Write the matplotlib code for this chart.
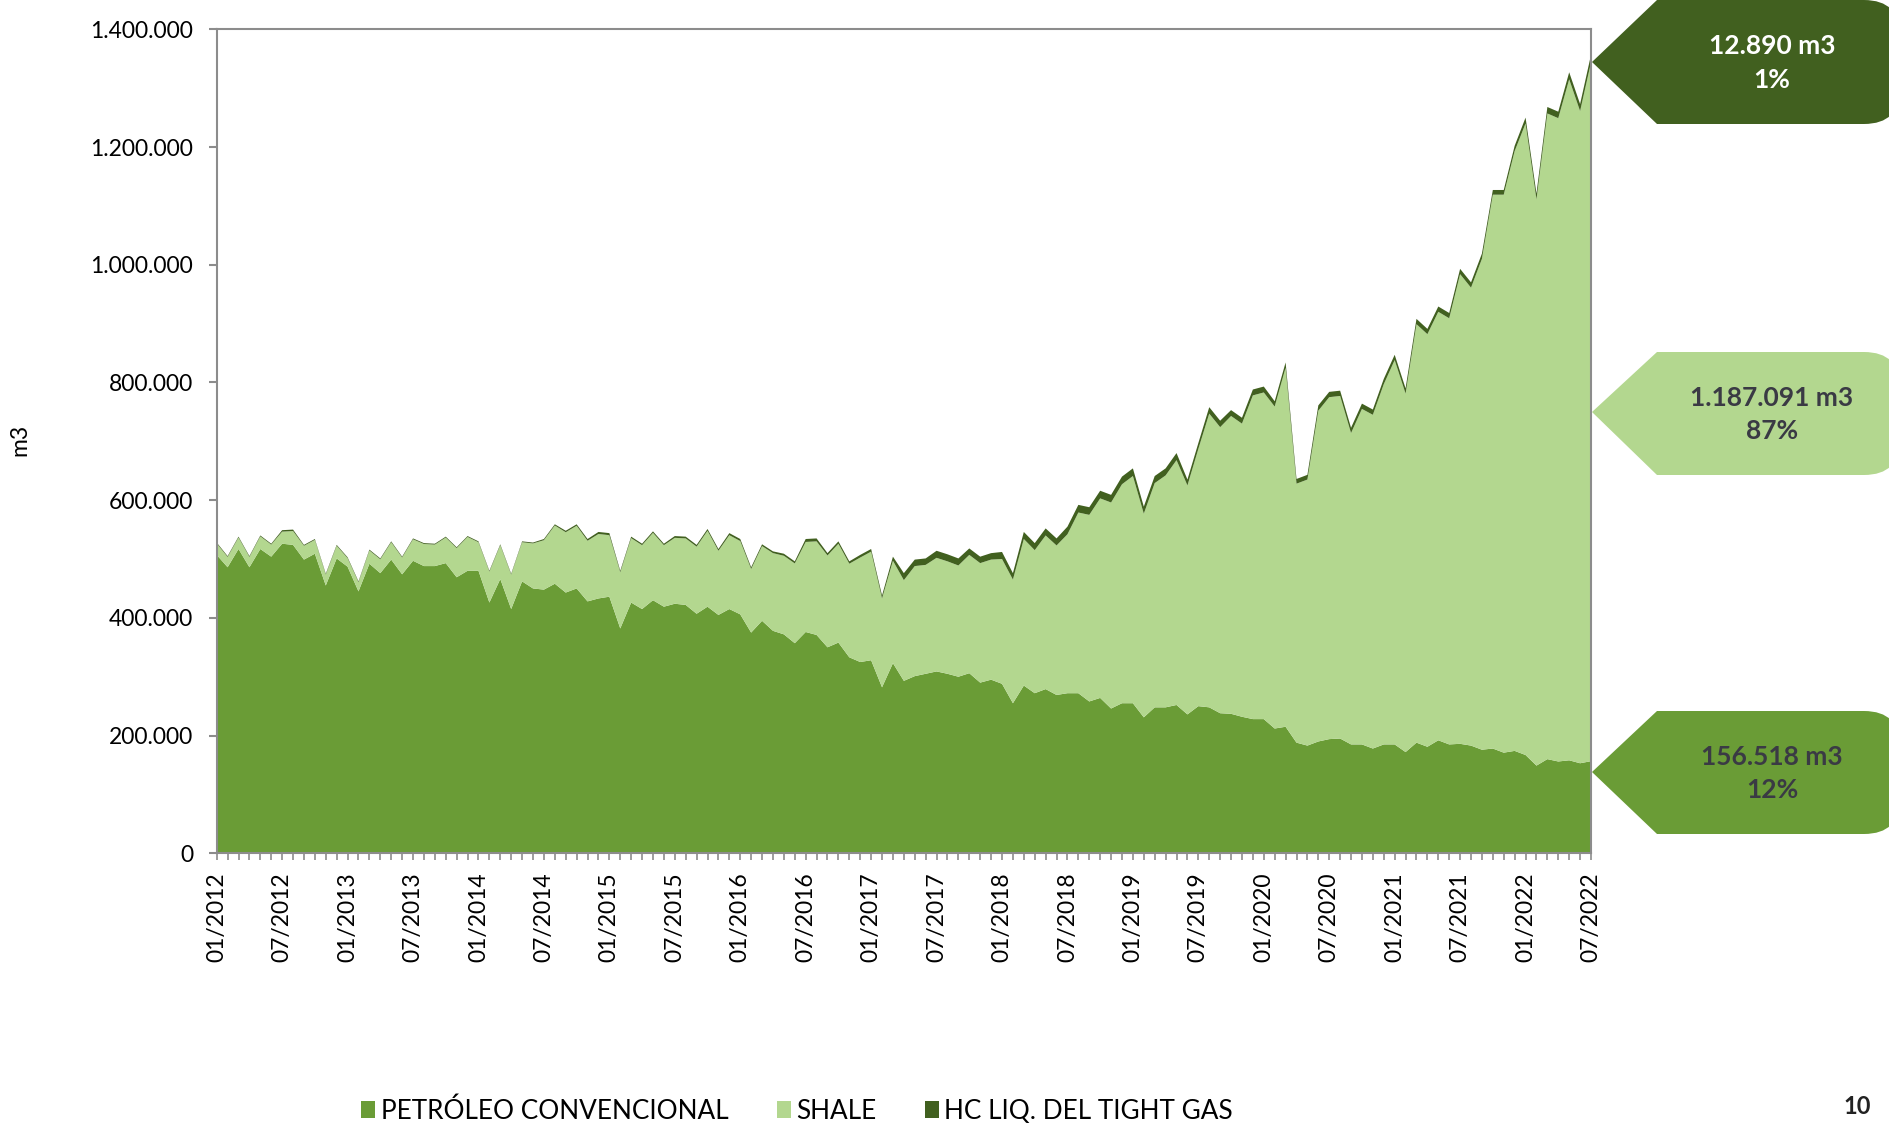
import matplotlib
matplotlib.use("Agg")
import matplotlib.pyplot as plt
from matplotlib.patches import Polygon, FancyBboxPatch, Patch
from matplotlib.ticker import FuncFormatter
import numpy as np

plt.rcParams['font.family'] = ['Lato', 'DejaVu Sans']

# ---- data (thousand m3 per month, 01/2012 .. 07/2022) ----
conv_k = [507, 486, 517, 486, 517, 504, 526, 524, 499, 509, 455, 501,
          487, 445, 492, 476, 499, 474, 497, 488, 488, 493, 469, 480,
          480, 426, 466, 415, 462, 450, 448, 458, 443, 450, 428, 433,
          436, 382, 426, 415, 430, 419, 424, 422, 407, 419, 405, 415,
          406, 375, 395, 378, 372, 357, 376, 371, 350, 358, 333, 325,
          328, 282, 323, 293, 301, 305, 309, 305, 300, 306, 290, 295,
          288, 255, 285, 272, 279, 269, 272, 272, 258, 264, 246, 255,
          255, 231, 248, 248, 252, 236, 250, 248, 238, 237, 232, 228,
          228, 212, 215, 188, 183, 190, 194, 195, 185, 185, 178, 185,
          185, 172, 188, 181, 192, 185, 186, 183, 176, 178, 171, 174,
          167, 149, 160, 156, 158, 153, 156.518]
shale_k = [19.5, 17.5, 19.5, 17.5, 21.5, 20.5, 20.5, 23.5, 23.5, 23.5, 18.5, 21.5,
           14.5, 15.5, 22.5, 23.5, 29.5, 28.5, 36.5, 37.5, 36.5, 43.5, 49.5, 57.5,
           48.5, 52.5, 57.5, 58.5, 66.5, 76.5, 84, 99, 102.5, 106.5, 103, 109.5,
           104.5, 95.5, 109.5, 108.5, 114.5, 104.5, 112, 113, 114, 129, 109, 125.5,
           124.5, 108, 127, 132, 133.5, 135.5, 153, 159, 156, 168, 159, 177.5,
           184.5, 151, 174, 171, 187, 185, 193, 191, 189, 201, 203, 204,
           212, 210, 249, 243, 261, 254, 270, 307, 317, 339, 350, 372,
           386, 346, 381, 394, 416, 389, 437, 499, 486, 506, 498, 550,
           555, 547, 610, 440, 452, 562, 581, 582, 529, 570, 567, 612,
           653, 609, 711, 701, 728, 724, 798, 778, 834, 941, 948, 1019,
           1073, 962, 1097, 1093, 1157, 1108, 1187.091]
tight_k = [1.5, 1.5, 1.5, 1.5, 1.5, 1.5, 2.5, 2.5, 1.5, 1.5, 1.5, 1.5,
           1.5, 1.5, 1.5, 1.5, 1.5, 1.5, 1.5, 1.5, 1.5, 1.5, 1.5, 1.5,
           1.5, 1.5, 1.5, 1.5, 1.5, 1.5, 2, 2, 2.5, 2.5, 3, 3.5,
           3.5, 2.5, 2.5, 2.5, 2.5, 2.5, 3, 3, 3, 3, 3, 3.5,
           3.5, 3, 3, 3, 3.5, 3.5, 5, 5, 4, 4, 4, 4.5,
           4.5, 5, 7, 12, 11, 11, 12, 12, 12, 11, 11, 11,
           12, 11, 12, 12, 12, 12, 13, 13, 13, 13, 13, 13,
           13, 12, 12, 12, 12, 10, 10, 11, 11, 10, 10, 10,
           10, 9, 9, 8, 8, 9, 9, 9, 9, 9, 9, 9,
           9, 9, 9, 9, 9, 9, 9, 9, 9, 8, 8, 9,
           10, 10, 11, 11, 12, 12, 12.89]
tick_labels = ["01/2012", "07/2012", "01/2013", "07/2013", "01/2014", "07/2014",
               "01/2015", "07/2015", "01/2016", "07/2016", "01/2017", "07/2017",
               "01/2018", "07/2018", "01/2019", "07/2019", "01/2020", "07/2020",
               "01/2021", "07/2021", "01/2022", "07/2022"]
series_names = ["PETRÓLEO CONVENCIONAL", "SHALE", "HC LIQ. DEL TIGHT GAS"]
callout_texts = ["12.890 m3\n1%", "1.187.091 m3\n87%", "156.518 m3\n12%"]

# ---- styles ----
colors = ["#6A9C36", "#B3D78F", "#41601F"]
grey = "#8C8C8C"
txt_dark = "#3A3A44"

W, H = 1889, 1124
fig = plt.figure(figsize=(W / 100, H / 100), dpi=100)
L, R, T, B = 216.7, 1591, 29.3, 853.3
ax = fig.add_axes([L / W, 1 - B / H, (R - L) / W, (B - T) / H])

x = np.arange(len(conv_k))
ax.stackplot(x, np.array(conv_k) * 1000, np.array(shale_k) * 1000,
             np.array(tight_k) * 1000, colors=colors, linewidth=0)
ax.set_xlim(0, len(conv_k) - 1)
ax.set_ylim(0, 1400000)
ax.set_yticks(np.arange(0, 1400001, 200000))
ax.yaxis.set_major_formatter(FuncFormatter(lambda v, p: f"{int(v):,}".replace(",", ".")))
ax.set_xticks(np.arange(0, len(conv_k), 6))
ax.set_xticklabels(tick_labels, rotation=90)
ax.set_xticks(x, minor=True)
for s in ax.spines.values():
    s.set_color(grey)
    s.set_linewidth(1.5)
ax.tick_params(axis='y', which='major', length=6, width=1.5, color=grey,
               labelsize=16.5, pad=11, labelcolor="black")
ax.tick_params(axis='x', which='both', length=5, width=1.2, color=grey,
               labelsize=16.5, pad=9, labelcolor="black")

fig.text(20 / W, 1 - 440 / H, "m3", rotation=90, fontsize=16.5, ha='center', va='center')

# ---- callouts ----
def px(xp, yp):
    return (xp / 100, (H - yp) / 100)

def callout(ytop, ybot, ytip, color, text, tcolor):
    poly = Polygon([px(1592, ytip), px(1657, ytop), px(1705, ytop),
                    px(1705, ybot), px(1657, ybot)], closed=True,
                   facecolor=color, edgecolor='none', transform=fig.dpi_scale_trans)
    fig.patches.append(poly)
    x0, y0 = px(1656, ybot)
    box = FancyBboxPatch((x0, y0), (1900 - 1656) / 100, (ybot - ytop) / 100,
                         boxstyle="round,pad=0,rounding_size=0.36",
                         facecolor=color, edgecolor='none', transform=fig.dpi_scale_trans)
    fig.patches.append(box)
    fig.text(1772 / W, 1 - ((ytop + ybot) / 2 + 1) / H, text, ha='center', va='center',
             fontsize=19, fontweight='bold', color=tcolor, linespacing=1.45)

callout(0, 124, 62, colors[2], callout_texts[0], "white")
callout(352, 475, 412, colors[1], callout_texts[1], txt_dark)
callout(711, 834, 772, colors[0], callout_texts[2], txt_dark)

# ---- legend ----
handles = [Patch(facecolor=c, edgecolor='none') for c in colors]
fig.legend(handles, series_names, loc='center', bbox_to_anchor=(797 / W, 1 - 1111 / H),
           ncol=3, frameon=False, fontsize=18.8, handlelength=0.55, handleheight=0.6,
           handletextpad=0.2, columnspacing=1.85)

fig.text(1857 / W, 1 - 1106 / H, "10", ha='center', va='center', fontsize=17,
         fontweight='bold', color="#222222")

fig.savefig("out.png", dpi=100)
